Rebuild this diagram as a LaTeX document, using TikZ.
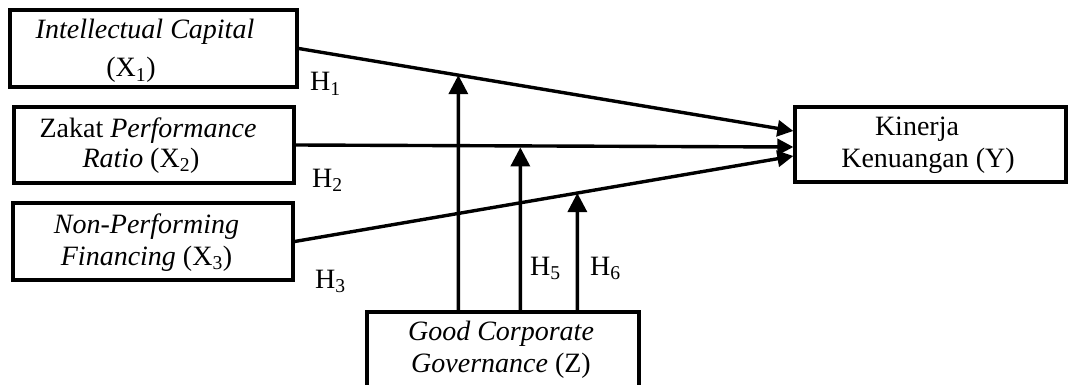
\documentclass[tikz,border=0pt]{standalone}
\usepackage{fontspec}
\setmainfont{Liberation Serif}
\usetikzlibrary{arrows.meta,calc}
\begin{document}
\begin{tikzpicture}[x=1pt,y=-1pt,
  box/.style={draw,line width=3.3pt,inner sep=0pt},
  txt/.style={anchor=base,inner sep=0pt,align=center},
  conn/.style={line width=3.4pt,-{Triangle[length=16pt,width=16pt]}},
  upconn/.style={line width=3.4pt,-{Triangle[length=19pt,width=19pt]}},
  hlab/.style={anchor=base west,inner sep=0pt,font=\fontsize{28}{32}\selectfont}]
\useasboundingbox (0,0) rectangle (1070,385);
\clip (0,0) rectangle (1070,385);
% boxes
\node[box,minimum width=287pt,minimum height=77pt] (x1) at (153.5,48.5) {};
\node[box,minimum width=280pt,minimum height=76pt] (x2) at (154,145) {};
\node[box,minimum width=280pt,minimum height=77pt] (x3) at (153,241.5) {};
\node[box,minimum width=271pt,minimum height=75pt] (y) at (930.5,144.5) {};
\node[box,minimum width=272pt,minimum height=80pt] (g) at (503,352) {};
% texts (anchored at the baseline of their last line)
\node[txt,font=\fontsize{28}{38}\selectfont] (x1t) at (145,77)
  {\textit{Intellectual Capital}\\(X\textsubscript{1})\hspace*{28pt}};
\node[txt,font=\fontsize{28}{30}\selectfont] (x2t) at (148,167)
  {Zakat \textit{Performance}\\\textit{Ratio} (X\textsubscript{2})\hspace*{14pt}};
\node[txt,font=\fontsize{28}{32}\selectfont] (x3t) at (146.5,265)
  {\textit{Non-Performing}\\\textit{Financing} (X\textsubscript{3})};
\node[txt,font=\fontsize{28}{32}\selectfont] (yt) at (928,167)
  {Kinerja\hspace*{22pt}\\Kenuangan (Y)};
\node[txt,font=\fontsize{28}{32}\selectfont] (gt) at (501,372)
  {\textit{Good Corporate}\\\textit{Governance} (Z)};
% connectors
\coordinate (yin1) at ($(y.west)+(0,-13.5)$);
\coordinate (yin2) at ($(y.west)+(0,2.5)$);
\coordinate (yin3) at ($(y.west)+(0,11.5)$);
\draw[conn] (x1.east) -- (yin1);
\draw[conn] (x2.east) -- (yin2);
\draw[conn] (x3.east) -- (yin3);
\coordinate (g1) at ($(g.north west)+(93,0)$);
\coordinate (g2) at ($(g.north west)+(155,0)$);
\coordinate (g3) at ($(g.north west)+(212,0)$);
\coordinate (t1) at ($(g1)+(0,-400)$);
\coordinate (t2) at ($(g2)+(0,-400)$);
\coordinate (t3) at ($(g3)+(0,-400)$);
\draw[upconn] (g1) -- (intersection of g1--t1 and x1.east--yin1);
\draw[upconn] (g2) -- ($(intersection of g2--t2 and x2.east--yin2)+(0,1.5)$);
\draw[upconn] (g3) -- (intersection of g3--t3 and x3.east--yin3);
% hypothesis labels
\node[hlab] (h1) at (310,91) {H\textsubscript{1}};
\node[hlab] (h2) at (312,187) {H\textsubscript{2}};
\node[hlab] (h3) at (315,288) {H\textsubscript{3}};
\node[hlab] (h5) at (530,275) {H\textsubscript{5}};
\node[hlab] (h6) at (590,275) {H\textsubscript{6}};
\end{tikzpicture}
\end{document}
